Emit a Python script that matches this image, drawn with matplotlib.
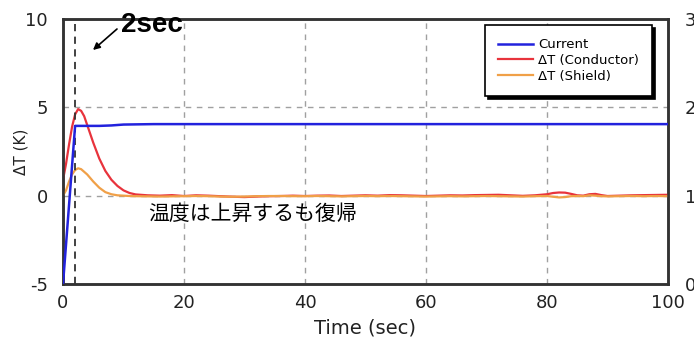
import matplotlib
matplotlib.use("Agg")
import matplotlib.pyplot as plt

plt.rcParams["axes.unicode_minus"] = False

# ---- data ----
t_current = [0, 2.0, 4, 6, 8, 10, 15, 20, 30, 40, 50, 60, 70, 80, 90, 100]
current = [0.0, 1.79, 1.79, 1.79, 1.795, 1.805, 1.81, 1.81, 1.81, 1.81, 1.81, 1.81, 1.81, 1.81, 1.81, 1.81]

t_temp = [0, 0.5, 1, 1.5, 2, 2.5, 3, 3.5, 4, 5, 6, 7, 8, 9, 10, 11, 12, 14, 16, 18,
          20, 22, 24, 26, 28, 30, 32, 34, 36, 38, 40, 42, 44, 46, 48, 50, 52, 54, 56, 58,
          60, 62, 64, 66, 68, 70, 72, 74, 76, 78, 80, 81, 82, 83, 84, 85, 86, 87, 88, 89,
          90, 92, 94, 96, 98, 100]
dT_conductor = [0.9, 1.8, 2.9, 3.9, 4.6, 4.9, 4.8, 4.5, 4.0, 3.0, 2.1, 1.4, 0.9, 0.55, 0.3, 0.15, 0.07, 0.02, 0.0, 0.03,
                -0.02, 0.02, 0.0, -0.03, -0.06, -0.08, -0.05, -0.03, -0.02, 0.0, -0.02, 0.0, 0.01, -0.02, 0.0, 0.02, 0.0, 0.03, 0.02, 0.0,
                -0.02, 0.0, 0.02, 0.01, 0.03, 0.04, 0.05, 0.02, -0.01, 0.02, 0.08, 0.15, 0.18, 0.17, 0.1, 0.02, 0.0, 0.08, 0.1, 0.03,
                -0.02, 0.0, 0.02, 0.03, 0.04, 0.05]
dT_shield = [0.0, 0.3, 0.8, 1.2, 1.45, 1.55, 1.5, 1.35, 1.2, 0.8, 0.45, 0.2, 0.08, 0.02, 0.0, -0.02, -0.03, -0.04, -0.05, -0.04,
             -0.03, -0.02, -0.03, -0.05, -0.06, -0.05, -0.03, -0.02, -0.02, -0.03, -0.03, -0.02, -0.03, -0.04, -0.03, -0.02, -0.03, -0.02, -0.03, -0.04,
             -0.05, -0.04, -0.03, -0.04, -0.03, -0.02, -0.03, -0.04, -0.05, -0.03, -0.02, -0.06, -0.1, -0.08, -0.03, -0.02, -0.03, 0.02, 0.0, -0.03,
             -0.04, -0.03, -0.02, -0.03, -0.02, -0.03]

x_ticks = [0, 20, 40, 60, 80, 100]
y_ticks = [-5, 0, 5, 10]
y2_ticks = [0, 1, 2, 3]

# ---- figure ----
fig = plt.figure(figsize=(6.94, 3.45), dpi=100)
ax = fig.add_axes([63 / 694, 1 - 284 / 345, (668 - 63) / 694, (284 - 19) / 345])
ax2 = ax.twinx()

ax.set_xlim(0, 100)
ax.set_ylim(-5, 10)
ax2.set_ylim(0, 3)

# grid lines
for xv in [20, 40, 60, 80]:
    ax.axvline(xv, color="#a0a0a0", lw=1.0, ls=(0, (4, 4)), zorder=1)
for yv in [0, 5]:
    ax.axhline(yv, color="#a0a0a0", lw=1.0, ls=(0, (4, 4)), zorder=1)
ax.axvline(2, color="#333333", lw=1.3, ls=(0, (4, 3)), zorder=4)

l2, = ax.plot(t_temp, dT_conductor, color="#e8333c", lw=1.6, zorder=3, label="\u0394T (Conductor)")
l3, = ax.plot(t_temp, dT_shield, color="#f0a048", lw=1.6, zorder=3, label="\u0394T (Shield)")
l1, = ax2.plot(t_current, current, color="#2222dd", lw=1.8, zorder=3, label="Current")

ax.set_xticks(x_ticks)
ax.set_yticks(y_ticks)
ax2.set_yticks(y2_ticks)
ax.tick_params(axis="both", length=0, labelsize=13, colors="#222222")
ax.tick_params(axis="y", pad=11)
ax.tick_params(axis="x", pad=7)
ax2.tick_params(axis="y", length=0, labelsize=13, pad=12, colors="#222222")

for a in (ax, ax2):
    for s in a.spines.values():
        s.set_color("#333333")
        s.set_linewidth(1.8)

ax.set_xlabel("Time (sec)", fontsize=14, color="#222222", labelpad=5)
ax.set_ylabel("\u0394T (K)", fontsize=11, color="#222222")
ax.yaxis.set_label_coords((29 - 63) / 605, 0.5)

leg = ax.legend(handles=[l1, l2, l3], loc="upper left",
                bbox_to_anchor=(0.698, 0.977), fontsize=9.5, frameon=True,
                fancybox=False, shadow={"color": "black", "alpha": 1},
                handlelength=2.6, handletextpad=0.4, labelspacing=0.2,
                borderpad=1.0, borderaxespad=0)
leg.get_frame().set_edgecolor("black")
leg.get_frame().set_linewidth(1.2)
leg.set_zorder(10)

# annotations
fig.text(121 / 694, 1 - 25 / 345, "2sec", fontsize=20, fontweight="bold",
         family=["Liberation Sans", "DejaVu Sans"], va="center", ha="left")
ax.annotate("", xy=(93 / 694, 1 - 50 / 345), xytext=(117 / 694, 1 - 29 / 345),
            xycoords="figure fraction", textcoords="figure fraction",
            arrowprops=dict(arrowstyle="-|>", color="black", lw=1.2,
                            mutation_scale=10, shrinkA=0, shrinkB=0))
fig.text(148 / 694, 1 - 214 / 345, "温度は上昇するも復帰", fontsize=15,
         family=["Noto Sans CJK JP", "DejaVu Sans"], va="center", ha="left")

fig.savefig("out.png", dpi=100)
